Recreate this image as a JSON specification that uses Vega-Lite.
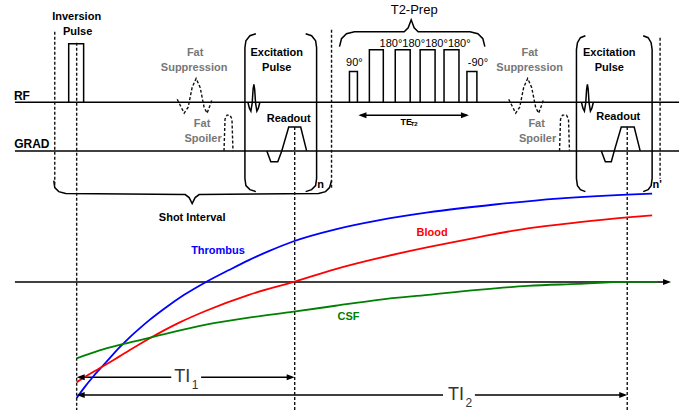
{
"$schema": "https://vega.github.io/schema/vega-lite/v6.json",
"width": 682, "height": 413,
"autosize": {"type": "fit", "contains": "padding"},
"padding": 0,
"background": "white",
"config": {"view": {"stroke": null}},
"datasets": {
"solid": [
{"id":"rf","x":15,"y":103},{"id":"rf","x":682,"y":103},
{"id":"grad","x":15,"y":152},{"id":"grad","x":682,"y":152},
{"id":"axis","x":15,"y":284},{"id":"axis","x":667,"y":284},
{"id":"inv","x":69,"y":103},{"id":"inv","x":69,"y":44},{"id":"inv","x":84,"y":44},{"id":"inv","x":84,"y":103},
{"id":"exc1","x":249,"y":103},{"id":"exc1","x":250.5,"y":109},{"id":"exc1","x":252,"y":112},{"id":"exc1","x":253.3,"y":104},{"id":"exc1","x":254.2,"y":90},{"id":"exc1","x":255,"y":85},{"id":"exc1","x":255.8,"y":90},{"id":"exc1","x":256.7,"y":104},{"id":"exc1","x":258,"y":112},{"id":"exc1","x":259.5,"y":109},{"id":"exc1","x":261,"y":103},
{"id":"exc2","x":584,"y":103},{"id":"exc2","x":585.5,"y":109},{"id":"exc2","x":587,"y":112},{"id":"exc2","x":588.3,"y":104},{"id":"exc2","x":589.2,"y":90},{"id":"exc2","x":590,"y":85},{"id":"exc2","x":590.8,"y":90},{"id":"exc2","x":591.7,"y":104},{"id":"exc2","x":593,"y":112},{"id":"exc2","x":594.5,"y":109},{"id":"exc2","x":596,"y":103},
{"id":"ro1","x":268,"y":152},{"id":"ro1","x":272,"y":163},{"id":"ro1","x":279,"y":163},{"id":"ro1","x":283,"y":152},{"id":"ro1","x":290,"y":128},{"id":"ro1","x":302,"y":128},{"id":"ro1","x":308,"y":152},
{"id":"ro2","x":604,"y":152},{"id":"ro2","x":608,"y":163},{"id":"ro2","x":614,"y":163},{"id":"ro2","x":617,"y":152},{"id":"ro2","x":624,"y":128},{"id":"ro2","x":637,"y":128},{"id":"ro2","x":643,"y":152},
{"id":"p90","x":351,"y":103},{"id":"p90","x":351,"y":72},{"id":"p90","x":359,"y":72},{"id":"p90","x":359,"y":103},
{"id":"p180a","x":371,"y":103},{"id":"p180a","x":371,"y":50},{"id":"p180a","x":385,"y":50},{"id":"p180a","x":385,"y":103},
{"id":"p180b","x":397,"y":103},{"id":"p180b","x":397,"y":50},{"id":"p180b","x":412,"y":50},{"id":"p180b","x":412,"y":103},
{"id":"p180c","x":422,"y":103},{"id":"p180c","x":422,"y":50},{"id":"p180c","x":437,"y":50},{"id":"p180c","x":437,"y":103},
{"id":"p180d","x":446,"y":103},{"id":"p180d","x":446,"y":50},{"id":"p180d","x":461,"y":50},{"id":"p180d","x":461,"y":103},
{"id":"pm90","x":469,"y":103},{"id":"pm90","x":469,"y":72},{"id":"pm90","x":479,"y":72},{"id":"pm90","x":479,"y":103},
{"id":"te","x":362,"y":116},{"id":"te","x":469,"y":116},
{"id":"br1L","x":257,"y":34},{"id":"br1L","x":251,"y":36},{"id":"br1L","x":247,"y":41},{"id":"br1L","x":246,"y":48},{"id":"br1L","x":246,"y":180},{"id":"br1L","x":247,"y":187},{"id":"br1L","x":251,"y":191},{"id":"br1L","x":257,"y":193},
{"id":"br1R","x":307,"y":34},{"id":"br1R","x":313,"y":36},{"id":"br1R","x":317,"y":41},{"id":"br1R","x":318,"y":48},{"id":"br1R","x":318,"y":180},{"id":"br1R","x":317,"y":187},{"id":"br1R","x":313,"y":191},{"id":"br1R","x":307,"y":193},
{"id":"br2L","x":588,"y":36},{"id":"br2L","x":583,"y":38},{"id":"br2L","x":580,"y":43},{"id":"br2L","x":579,"y":50},{"id":"br2L","x":579,"y":180},{"id":"br2L","x":580,"y":187},{"id":"br2L","x":583,"y":191},{"id":"br2L","x":588,"y":193},
{"id":"br2R","x":646,"y":36},{"id":"br2R","x":651,"y":38},{"id":"br2R","x":654,"y":43},{"id":"br2R","x":655,"y":50},{"id":"br2R","x":655,"y":180},{"id":"br2R","x":654,"y":187},{"id":"br2R","x":651,"y":191},{"id":"br2R","x":646,"y":193},
{"id":"shot","x":54,"y":182},{"id":"shot","x":55,"y":189},{"id":"shot","x":59,"y":193},{"id":"shot","x":66,"y":195},{"id":"shot","x":186,"y":196},{"id":"shot","x":190,"y":199},{"id":"shot","x":193,"y":205},{"id":"shot","x":196,"y":199},{"id":"shot","x":200,"y":196},{"id":"shot","x":320,"y":195},{"id":"shot","x":327,"y":193},{"id":"shot","x":331,"y":189},{"id":"shot","x":333,"y":182},
{"id":"t2b","x":341,"y":47},{"id":"t2b","x":343,"y":39},{"id":"t2b","x":348,"y":34},{"id":"t2b","x":356,"y":32},{"id":"t2b","x":406,"y":32},{"id":"t2b","x":410,"y":28},{"id":"t2b","x":413,"y":20},{"id":"t2b","x":416,"y":28},{"id":"t2b","x":420,"y":32},{"id":"t2b","x":472,"y":32},{"id":"t2b","x":480,"y":34},{"id":"t2b","x":485,"y":39},{"id":"t2b","x":487,"y":47},
{"id":"ti1a","x":80,"y":380},{"id":"ti1a","x":172,"y":380},
{"id":"ti1b","x":202,"y":380},{"id":"ti1b","x":290,"y":380},
{"id":"ti2a","x":80,"y":398},{"id":"ti2a","x":445,"y":398},
{"id":"ti2b","x":477,"y":398},{"id":"ti2b","x":625,"y":398}
],
"dashed": [
{"id":"v1","x":55,"y":32},{"id":"v1","x":55,"y":186},
{"id":"v2","x":77,"y":43},{"id":"v2","x":77,"y":413},
{"id":"v3","x":296,"y":128},{"id":"v3","x":296,"y":413},
{"id":"v4","x":333,"y":30},{"id":"v4","x":333,"y":190},
{"id":"v5","x":630,"y":128},{"id":"v5","x":630,"y":413},
{"id":"v6","x":663,"y":38},{"id":"v6","x":663,"y":180},
{"id":"fs1","x":178,"y":100},{"id":"fs1","x":181,"y":106},{"id":"fs1","x":185,"y":114},{"id":"fs1","x":189,"y":108},{"id":"fs1","x":193,"y":88},{"id":"fs1","x":197,"y":79},{"id":"fs1","x":201,"y":88},{"id":"fs1","x":205,"y":108},{"id":"fs1","x":208,"y":114},{"id":"fs1","x":211,"y":106},{"id":"fs1","x":213,"y":100},
{"id":"fs2","x":511,"y":100},{"id":"fs2","x":514,"y":106},{"id":"fs2","x":518,"y":114},{"id":"fs2","x":522,"y":108},{"id":"fs2","x":526,"y":88},{"id":"fs2","x":530,"y":79},{"id":"fs2","x":534,"y":88},{"id":"fs2","x":538,"y":108},{"id":"fs2","x":541,"y":114},{"id":"fs2","x":544,"y":106},{"id":"fs2","x":546,"y":100},
{"id":"sp1","x":225,"y":152},{"id":"sp1","x":226,"y":120},{"id":"sp1","x":228,"y":116},{"id":"sp1","x":231,"y":116},{"id":"sp1","x":233,"y":120},{"id":"sp1","x":234,"y":152},
{"id":"sp2","x":562,"y":152},{"id":"sp2","x":563,"y":120},{"id":"sp2","x":565,"y":116},{"id":"sp2","x":569,"y":116},{"id":"sp2","x":571,"y":120},{"id":"sp2","x":572,"y":152}
],
"curves": [
{"s":"Thrombus","x":77,"y":401},{"s":"Thrombus","x":85,"y":390},{"s":"Thrombus","x":93,"y":380},{"s":"Thrombus","x":100,"y":372},{"s":"Thrombus","x":110,"y":361},{"s":"Thrombus","x":120,"y":350},{"s":"Thrombus","x":130,"y":340},{"s":"Thrombus","x":140,"y":331},{"s":"Thrombus","x":150,"y":322.5},{"s":"Thrombus","x":167,"y":309.5},{"s":"Thrombus","x":185,"y":297},{"s":"Thrombus","x":207,"y":284},{"s":"Thrombus","x":230,"y":272},{"s":"Thrombus","x":250,"y":262},{"s":"Thrombus","x":270,"y":253},{"s":"Thrombus","x":295,"y":243},{"s":"Thrombus","x":337,"y":231},{"s":"Thrombus","x":380,"y":222},{"s":"Thrombus","x":430,"y":214},{"s":"Thrombus","x":497,"y":206},{"s":"Thrombus","x":560,"y":200},{"s":"Thrombus","x":630,"y":196},{"s":"Thrombus","x":655,"y":195},
{"s":"Blood","x":77,"y":385},{"s":"Blood","x":88,"y":378},{"s":"Blood","x":100,"y":371},{"s":"Blood","x":120,"y":359},{"s":"Blood","x":150,"y":341},{"s":"Blood","x":180,"y":325},{"s":"Blood","x":207,"y":313},{"s":"Blood","x":250,"y":297},{"s":"Blood","x":295,"y":284},{"s":"Blood","x":337,"y":271},{"s":"Blood","x":380,"y":260},{"s":"Blood","x":430,"y":249},{"s":"Blood","x":480,"y":239},{"s":"Blood","x":530,"y":230},{"s":"Blood","x":580,"y":224},{"s":"Blood","x":630,"y":219},{"s":"Blood","x":655,"y":217},
{"s":"CSF","x":77,"y":361},{"s":"CSF","x":100,"y":353},{"s":"CSF","x":122,"y":347},{"s":"CSF","x":155,"y":339},{"s":"CSF","x":207,"y":327},{"s":"CSF","x":250,"y":320},{"s":"CSF","x":295,"y":314},{"s":"CSF","x":337,"y":308},{"s":"CSF","x":380,"y":302},{"s":"CSF","x":430,"y":297},{"s":"CSF","x":480,"y":292},{"s":"CSF","x":530,"y":288},{"s":"CSF","x":580,"y":286},{"s":"CSF","x":630,"y":284},{"s":"CSF","x":660,"y":284}
],
"heads": [
{"d":"L","x":77,"y":380},{"d":"R","x":296,"y":380},
{"d":"L","x":77,"y":398},{"d":"R","x":630,"y":398},
{"d":"L","x":360,"y":116},{"d":"R","x":471,"y":116},
{"d":"R","x":674,"y":284}
],
"texts": [
{"g":"axl","t":"RF","x":22,"y":97},
{"g":"axl","t":"GRAD","x":32,"y":145},
{"g":"b","t":"Inversion","x":77,"y":17},
{"g":"b","t":"Pulse","x":78,"y":32},
{"g":"b","t":"Excitation","x":278,"y":53},
{"g":"b","t":"Pulse","x":278,"y":68},
{"g":"b","t":"Readout","x":290,"y":120},
{"g":"b","t":"Excitation","x":612,"y":53},
{"g":"b","t":"Pulse","x":612,"y":68},
{"g":"b","t":"Readout","x":621,"y":118},
{"g":"b","t":"Shot Interval","x":193,"y":220},
{"g":"b","t":"n","x":322,"y":186},
{"g":"b","t":"n'","x":660,"y":186},
{"g":"grey","t":"Fat","x":196,"y":53},
{"g":"grey","t":"Suppression","x":195,"y":68},
{"g":"grey","t":"Fat","x":203,"y":125},
{"g":"grey","t":"Spoiler","x":204,"y":140},
{"g":"grey","t":"Fat","x":532,"y":53},
{"g":"grey","t":"Suppression","x":532,"y":68},
{"g":"grey","t":"Fat","x":539,"y":125},
{"g":"grey","t":"Spoiler","x":540,"y":140},
{"g":"title","t":"T2-Prep","x":416,"y":10},
{"g":"reg","t":"90°","x":356,"y":63},
{"g":"reg","t":"180°180°180°180°","x":427,"y":44},
{"g":"reg","t":"-90°","x":480,"y":63},
{"g":"te","t":"TE","x":408,"y":123},
{"g":"tesub","t":"T2","x":416,"y":125},
{"g":"ti","t":"TI","x":183,"y":380},
{"g":"tisub","t":"1","x":196,"y":388},
{"g":"ti","t":"TI","x":458,"y":398},
{"g":"tisub","t":"2","x":471,"y":406},
{"g":"c","t":"Thrombus","x":219,"y":253},
{"g":"c","t":"Blood","x":434,"y":235},
{"g":"c","t":"CSF","x":350,"y":319}
]
},
"encoding": {
"x": {"field": "x", "type": "quantitative", "scale": {"domain": [0, 682], "nice": false, "zero": false}, "axis": null},
"y": {"field": "y", "type": "quantitative", "scale": {"domain": [0, 413], "nice": false, "zero": false, "reverse": true}, "axis": null}
},
"layer": [
{"data": {"name": "solid"}, "mark": {"type": "line", "color": "black", "strokeWidth": 1.5},
 "encoding": {"detail": {"field": "id"}, "order": {"value": null}}},
{"data": {"name": "dashed"}, "mark": {"type": "line", "color": "#111", "strokeWidth": 1.4, "strokeDash": [3, 2]},
 "encoding": {"detail": {"field": "id"}, "order": {"value": null}}},
{"data": {"name": "curves"}, "mark": {"type": "line", "strokeWidth": 1.8, "interpolate": "monotone"},
 "encoding": {"color": {"field": "s", "type": "nominal", "scale": {"domain": ["Thrombus", "Blood", "CSF"], "range": ["#0000ff", "#ff0000", "#008000"]}, "legend": null}, "order": {"value": null}}},
{"data": {"name": "heads"}, "mark": {"type": "point", "filled": true, "color": "black", "opacity": 1, "size": 64, "strokeWidth": 0},
 "encoding": {"shape": {"field": "d", "type": "nominal", "scale": {"domain": ["L", "R"], "range": ["M0,0L2,-0.75L2,0.75Z", "M0,0L-2,-0.75L-2,0.75Z"]}, "legend": null}}},
{"data": {"name": "texts"}, "transform": [{"filter": "datum.g == 'axl'"}],
 "mark": {"type": "text", "font": "Liberation Sans", "fontWeight": "bold", "fontSize": 12, "color": "black", "align": "center", "baseline": "middle"},
 "encoding": {"text": {"field": "t"}}},
{"data": {"name": "texts"}, "transform": [{"filter": "datum.g == 'b'"}],
 "mark": {"type": "text", "font": "Liberation Sans", "fontWeight": "bold", "fontSize": 11, "color": "black", "align": "center", "baseline": "middle"},
 "encoding": {"text": {"field": "t"}}},
{"data": {"name": "texts"}, "transform": [{"filter": "datum.g == 'grey'"}],
 "mark": {"type": "text", "font": "Liberation Sans", "fontWeight": "bold", "fontSize": 11, "color": "#777777", "align": "center", "baseline": "middle"},
 "encoding": {"text": {"field": "t"}}},
{"data": {"name": "texts"}, "transform": [{"filter": "datum.g == 'title'"}],
 "mark": {"type": "text", "font": "Liberation Sans", "fontSize": 13, "color": "black", "align": "center", "baseline": "middle"},
 "encoding": {"text": {"field": "t"}}},
{"data": {"name": "texts"}, "transform": [{"filter": "datum.g == 'reg'"}],
 "mark": {"type": "text", "font": "Liberation Sans", "fontSize": 11, "color": "black", "align": "center", "baseline": "middle"},
 "encoding": {"text": {"field": "t"}}},
{"data": {"name": "texts"}, "transform": [{"filter": "datum.g == 'te'"}],
 "mark": {"type": "text", "font": "Liberation Sans", "fontWeight": "bold", "fontSize": 9, "color": "black", "align": "center", "baseline": "middle"},
 "encoding": {"text": {"field": "t"}}},
{"data": {"name": "texts"}, "transform": [{"filter": "datum.g == 'tesub'"}],
 "mark": {"type": "text", "font": "Liberation Sans", "fontWeight": "bold", "fontSize": 6, "color": "black", "align": "center", "baseline": "middle"},
 "encoding": {"text": {"field": "t"}}},
{"data": {"name": "texts"}, "transform": [{"filter": "datum.g == 'ti'"}],
 "mark": {"type": "text", "font": "Liberation Sans", "fontSize": 18, "color": "#333333", "align": "center", "baseline": "middle"},
 "encoding": {"text": {"field": "t"}}},
{"data": {"name": "texts"}, "transform": [{"filter": "datum.g == 'tisub'"}],
 "mark": {"type": "text", "font": "Liberation Sans", "fontSize": 12, "color": "#333333", "align": "center", "baseline": "middle"},
 "encoding": {"text": {"field": "t"}}},
{"data": {"name": "texts"}, "transform": [{"filter": "datum.g == 'c'"}],
 "mark": {"type": "text", "font": "Liberation Sans", "fontWeight": "bold", "fontSize": 11, "align": "center", "baseline": "middle"},
 "encoding": {"text": {"field": "t"}, "color": {"field": "t", "type": "nominal", "scale": {"domain": ["Thrombus", "Blood", "CSF"], "range": ["#0000ff", "#ff0000", "#008000"]}, "legend": null}}}
]
}
